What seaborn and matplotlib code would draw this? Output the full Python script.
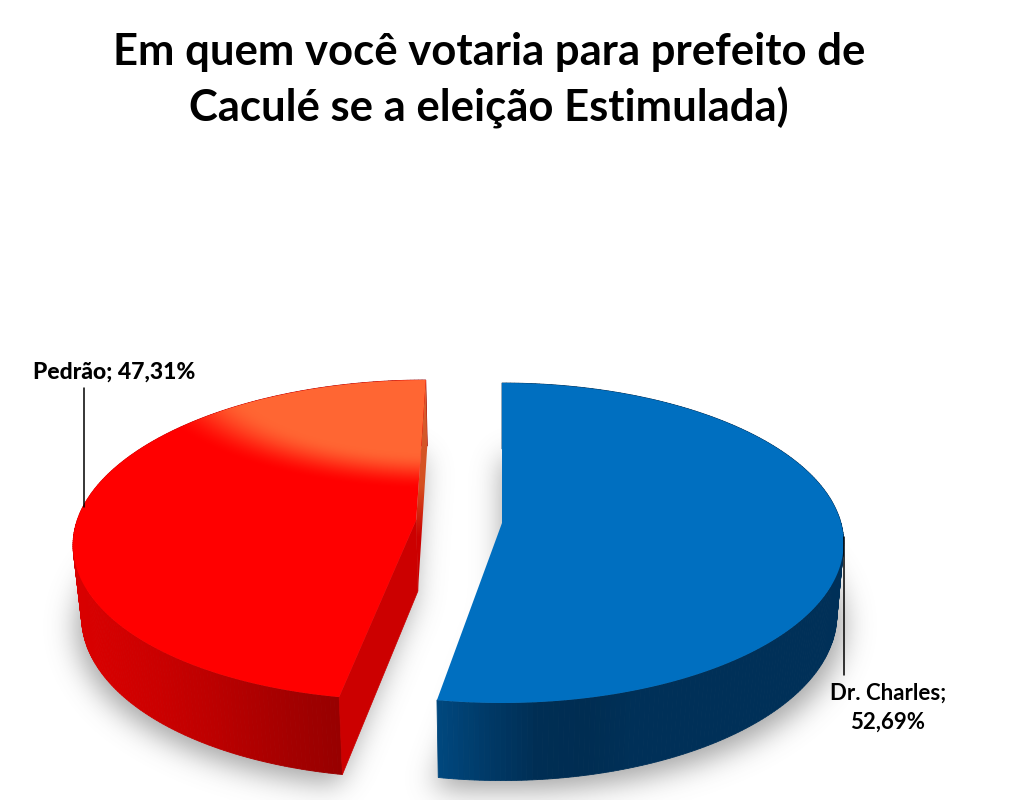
import numpy as np
import matplotlib
matplotlib.use("Agg")
import matplotlib.pyplot as plt
from matplotlib.colors import to_rgb
from matplotlib.path import Path
from matplotlib.patches import Polygon
import seaborn as sns

# dados
titulo = ["Em quem você votaria para prefeito de", "Caculé se a eleição Estimulada)"]
candidatos = ["Dr. Charles", "Pedrão"]
valores = [52.69, 47.31]

sns.set_theme(style="white")
plt.rcParams["font.family"] = ["Lato", "DejaVu Sans"]

# camera / perspectiva
CX = 502
RX, RY = 339, 157.5
K = 0.125
S = 0.98
H = 71
deslocamento = {"Dr. Charles": (0.0, 523), "Pedrão": (0.253, 520)}

fig = plt.figure(figsize=(10.24, 8), dpi=100)
ax = fig.add_axes([0, 0, 1, 1])
ax.axis("off")


def topo(t, e, cy):
    w = 1 + K * np.cos(t)
    return CX + RX * (np.sin(t) - e) / w, cy - RY * np.cos(t) / w


def base(t, e, cy):
    w = 1 + K * np.cos(t)
    return CX + S * RX * (np.sin(t) - e) / w, cy - S * RY * np.cos(t) / w + H / w


def centro(e, cy, nivel=0):
    return CX - (S if nivel else 1) * RX * e, cy + nivel * H


# angulos saem dos valores (sentido horario a partir do topo)
total = sum(valores)
fim = np.cumsum(valores) / total * 2 * np.pi
ini = np.r_[0, fim[:-1]]

# sombra
yy, xx = np.mgrid[0:800:2, 0:1024:2]
pts = np.c_[xx.ravel(), yy.ravel()]
mascara = np.zeros(xx.shape)
for nome, a, b in zip(candidatos, ini, fim):
    e, cy = deslocamento[nome]
    t = np.linspace(a, b, 200)
    bx, by = base(t, e, cy)
    cx0, cy0 = centro(e, cy, 1)
    poli = np.c_[np.r_[cx0, bx] + np.sign(np.r_[cx0, bx] - CX) * 6, np.r_[cy0, by] + 9]
    mascara = np.maximum(mascara, Path(poli).contains_points(pts).reshape(xx.shape))
g = np.exp(-0.5 * (np.arange(-24, 25) / 7.0) ** 2)
g = g / g.sum()
mascara = np.apply_along_axis(lambda m: np.convolve(m, g, mode="same"), 0, mascara)
mascara = np.apply_along_axis(lambda m: np.convolve(m, g, mode="same"), 1, mascara)
sombra = np.zeros(xx.shape + (4,))
sombra[..., :3] = 0.35
sombra[..., 3] = mascara * 0.55
ax.imshow(sombra, extent=(0, 1024, 800, 0), aspect="auto", zorder=1, interpolation="bilinear")

# paredes externas: cor varia com x
pal_azul = sns.blend_palette(["#00487f", "#003a68", "#002e54", "#002d52", "#003058"], 100)
pal_verm = sns.blend_palette(["#d80000", "#cc0000", "#bc0000", "#a80000", "#980000"], 100)
x_cores = {"Dr. Charles": (438, 640), "Pedrão": (90, 338)}
cores_parede = {"Dr. Charles": pal_azul, "Pedrão": pal_verm}
cores_topo = {"Dr. Charles": "#006fc0", "Pedrão": "#ff0000"}

for nome, a, b in zip(candidatos, ini, fim):
    e, cy = deslocamento[nome]
    t = np.linspace(a, b, 241)
    x0, y0 = topo(t, e, cy)
    x1, y1 = base(t, e, cy)
    lo, hi = x_cores[nome]
    pal = cores_parede[nome]
    # fundo primeiro, frente por ultimo
    ordem = np.argsort(np.cos(t[:-1]))[::-1]
    for i in ordem:
        f = np.clip((x0[i] - lo) / (hi - lo), 0, 0.999)
        c = pal[int(f * 100)]
        ax.fill([x0[i], x0[i + 1], x1[i + 1], x1[i]], [y0[i], y0[i + 1], y1[i + 1], y1[i]],
                color=c, lw=0.6, zorder=2)

# faces de corte da fatia vermelha
e, cy = deslocamento["Pedrão"]
a, b = ini[1], fim[1]
ax0, ay0 = centro(e, cy)
ax1, ay1 = centro(e, cy, 1)
fx0, fy0 = topo(a, e, cy)
fx1, fy1 = base(a, e, cy)
ax.fill([ax0, fx0, fx1, ax1], [ay0, fy0, fy1, ay1], color="#cc0000", lw=0.5, zorder=3)

tx0, ty0 = topo(b, e, cy)
tx1, ty1 = base(b, e, cy)
face = Polygon([(ax0, ay0), (tx0, ty0), (tx1, ty1), (ax1, ay1)], closed=True, transform=ax.transData)
grad = np.array(sns.blend_palette(["#e0622f", "#d4582a", "#d65020", "#cc0000", "#cc0000"], 256))[:, None, :3]
im = ax.imshow(grad, extent=(400, 440, 590, 381), aspect="auto", zorder=3)
im.set_clip_path(face)

# topo das fatias
for nome, a, b in zip(candidatos, ini, fim):
    e, cy = deslocamento[nome]
    t = np.linspace(a, b, 300)
    x0, y0 = topo(t, e, cy)
    cx0, cy0 = centro(e, cy)
    ax.fill(np.r_[cx0, x0], np.r_[cy0, y0], color=cores_topo[nome], lw=0, zorder=4)

# brilho laranja na fatia vermelha
t = np.linspace(ini[1], fim[1], 300)
x0, y0 = topo(t, e, cy)
topo_verm = Polygon(np.c_[np.r_[ax0, x0], np.r_[ay0, y0]], closed=True, transform=ax.transData)
yy, xx = np.mgrid[370:520, 60:440]
r = np.sqrt(((xx - 440) / 254) ** 2 + ((yy - 370) / 100) ** 2)
al = np.clip((1.2 - r) / 0.37, 0, 1)
al = al * al * (3 - 2 * al)
brilho = np.zeros(xx.shape + (4,))
brilho[..., :3] = to_rgb("#ff6633")
brilho[..., 3] = al
im = ax.imshow(brilho, extent=(60, 440, 520, 370), aspect="auto", zorder=5, interpolation="bilinear")
im.set_clip_path(topo_verm)

# linhas de chamada e rotulos
ax.plot([84, 84], [388, 507], color="black", lw=1.1, zorder=6)
ax.plot([844, 844], [537, 675], color="black", lw=1.1, zorder=6)


def rotulo(i):
    return f"{candidatos[i]}; {str(f'{valores[i]:.2f}').replace('.', ',')}%"


ax.text(114, 372, rotulo(1), ha="center", va="center", fontsize=16.5, fontweight="black", color="black", zorder=7)
ax.text(888, 708, rotulo(0).replace("; ", ";\n"), ha="center", va="center", fontsize=16, fontweight="bold",
        color="black", linespacing=1.45, zorder=7)

for linha, y in zip(titulo, [52, 108]):
    ax.text(489, y, linha, ha="center", va="center", fontsize=31.4, fontweight="bold", color="black")

ax.set_xlim(0, 1024)
ax.set_ylim(800, 0)

fig.savefig("out.png", dpi=100, facecolor="white")
